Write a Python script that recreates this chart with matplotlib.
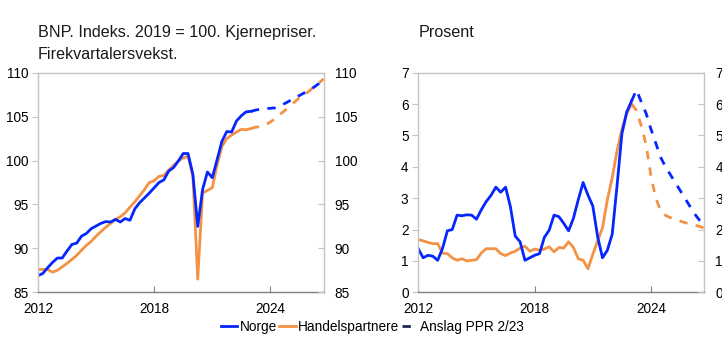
import matplotlib
matplotlib.use("Agg")
import matplotlib.pyplot as plt
from matplotlib.lines import Line2D
import numpy as np

plt.rcParams['font.family'] = ['Liberation Sans', 'DejaVu Sans']

# Quarterly time axis: 2012K1 .. 2026K4
start_year = 2012
n_quarters = 60
last_actual = 44          # index of 2023K1, last observed quarter
x_ticks = [2012, 2018, 2024]

# GDP index, 2019 = 100 (observed)
bnp_norge = [86.9, 87.15, 87.8, 88.4, 88.9, 88.9, 89.7, 90.45, 90.6, 91.4, 91.7, 92.25,
             92.55, 92.85, 93.05, 93.0, 93.3, 93.0, 93.4, 93.2, 94.5, 95.2, 95.75, 96.3,
             96.9, 97.5, 97.8, 98.8, 99.2, 99.95, 100.8, 100.8, 98.4, 92.5, 96.7, 98.7,
             98.05, 100.1, 102.2, 103.3, 103.25, 104.5, 105.1, 105.55, 105.6]
bnp_handel = [87.6, 87.6, 87.6, 87.3, 87.5, 87.9, 88.3, 88.75, 89.2, 89.8, 90.35, 90.8,
              91.4, 91.9, 92.4, 92.85, 93.3, 93.6, 94.05, 94.7, 95.3, 96.0, 96.7, 97.5,
              97.7, 98.2, 98.3, 98.9, 99.45, 99.95, 100.3, 100.5, 98.2, 86.5, 96.3, 96.6,
              96.9, 99.5, 101.6, 102.5, 102.9, 103.25, 103.55, 103.5, 103.65]
# GDP projections (from 2023K1)
bnp_norge_anslag = [105.6, 105.75, 105.85, 105.9, 105.95, 106.0, 106.2, 106.5, 106.8,
                    107.1, 107.4, 107.7, 108.0, 108.35, 108.75, 109.15]
bnp_handel_anslag = [103.65, 103.8, 103.85, 104.05, 104.4, 104.75, 105.25, 105.7, 106.2,
                     106.65, 107.15, 107.5, 107.9, 108.4, 108.8, 109.3]

# Core inflation, four-quarter growth, percent (observed)
kpi_norge = [1.39, 1.10, 1.18, 1.15, 1.02, 1.4, 1.96, 2.0, 2.46, 2.44, 2.47, 2.46,
             2.33, 2.63, 2.89, 3.09, 3.35, 3.19, 3.35, 2.73, 1.79, 1.61, 1.02, 1.10,
             1.18, 1.23, 1.75, 1.98, 2.46, 2.41, 2.2, 1.96, 2.36, 2.95, 3.5, 3.1,
             2.75, 1.77, 1.10, 1.34, 1.85, 3.4, 5.05, 5.75, 6.1]
kpi_handel = [1.68, 1.64, 1.59, 1.55, 1.55, 1.25, 1.23, 1.10, 1.02, 1.07, 1.0, 1.02,
              1.04, 1.25, 1.39, 1.39, 1.39, 1.23, 1.17, 1.25, 1.31, 1.41, 1.47, 1.31,
              1.38, 1.34, 1.38, 1.45, 1.29, 1.43, 1.41, 1.61, 1.43, 1.07, 1.02, 0.75,
              1.21, 1.64, 2.06, 2.95, 3.65, 4.5, 5.2, 5.7, 6.0]
# Inflation projections (from 2023K1)
kpi_norge_anslag = [6.1, 6.45, 6.07, 5.7, 5.2, 4.75, 4.3, 4.0, 3.75, 3.5, 3.25, 3.0,
                    2.75, 2.5, 2.3, 2.15]
kpi_handel_anslag = [6.0, 5.8, 5.3, 4.7, 3.7, 3.0, 2.6, 2.45, 2.38, 2.32, 2.27, 2.22,
                     2.18, 2.14, 2.1, 2.05]

titles = [["BNP. Indeks. 2019 = 100. Kjernepriser.", "Firekvartalersvekst."], ["Prosent"]]
legend_labels = ["Norge", "Handelspartnere", "Anslag PPR 2/23"]

BLUE = '#0526ff'
ORANGE = '#f39245'
NAVY = '#1c2a52'
SPINE_LIGHT = '#c4c4c4'
SPINE_DARK = '#808080'
LW = 2.0
DASH = (0, (3.0, 3.0))
FS = 9.8

t = start_year + np.arange(n_quarters) / 4.0
t_act = t[:last_actual + 1]
t_proj = t[last_actual:]

fig = plt.figure(figsize=(7.22, 3.46), dpi=100)

panels = [
    dict(rect=[38 / 722, 1 - 292.3 / 346, 285.6 / 722, 219.6 / 346],
         ylim=(85, 110), yticks=[85, 90, 95, 100, 105, 110],
         act=(bnp_norge, bnp_handel), proj=(bnp_norge_anslag, bnp_handel_anslag),
         title=titles[0]),
    dict(rect=[418.3 / 722, 1 - 292.3 / 346, 286 / 722, 219.6 / 346],
         ylim=(0, 7), yticks=list(range(0, 8)),
         act=(kpi_norge, kpi_handel), proj=(kpi_norge_anslag, kpi_handel_anslag),
         title=titles[1]),
]

for p in panels:
    ax = fig.add_axes(p['rect'])
    n_act, h_act = p['act']
    n_proj, h_proj = p['proj']
    ax.plot(t_act, h_act, color=ORANGE, lw=LW, solid_joinstyle='round')
    ax.plot(t_proj, h_proj, color=ORANGE, lw=LW, linestyle=DASH)
    ax.plot(t_act, n_act, color=BLUE, lw=LW, solid_joinstyle='round')
    ax.plot(t_proj, n_proj, color=BLUE, lw=LW, linestyle=DASH)

    ax.set_xlim(start_year, start_year + (n_quarters - 1) / 4.0)
    ax.set_ylim(*p['ylim'])
    ax.set_xticks(x_ticks)
    ax.set_xticklabels([str(v) for v in x_ticks])
    ax.set_yticks(p['yticks'])
    ax.tick_params(axis='x', direction='in', length=4, color=SPINE_DARK,
                   labelsize=FS, pad=7)
    ax.tick_params(axis='y', direction='out', length=4, color=SPINE_LIGHT,
                   labelsize=FS, pad=3)
    for side in ['top', 'left', 'right']:
        ax.spines[side].set_color(SPINE_LIGHT)
    ax.spines['bottom'].set_color(SPINE_DARK)
    for s in ax.spines.values():
        s.set_linewidth(1.0)

    ax2 = ax.twinx()
    ax2.set_ylim(*p['ylim'])
    ax2.set_yticks(p['yticks'])
    ax2.tick_params(axis='y', direction='in', length=4, color=SPINE_LIGHT,
                    labelsize=FS, pad=8)
    for s in ax2.spines.values():
        s.set_visible(False)

    x0 = p['rect'][0]
    for k, line in enumerate(p['title']):
        fig.text(x0, 1 - (37 + 22 * k) / 346, line, ha='left', va='baseline',
                 fontsize=11.6, color='#1a1a1a')

handles = [Line2D([], [], color=BLUE, lw=LW),
           Line2D([], [], color=ORANGE, lw=LW),
           Line2D([], [], color=NAVY, lw=LW, linestyle=DASH)]
fig.legend(handles, legend_labels, loc='center', ncol=3, frameon=False,
           bbox_to_anchor=(372.5 / 722, 1 - 326.7 / 346), fontsize=FS,
           handlelength=1.2, handletextpad=0.15, columnspacing=0.2,
           borderaxespad=0, borderpad=0)

fig.savefig("out.png", dpi=100)
